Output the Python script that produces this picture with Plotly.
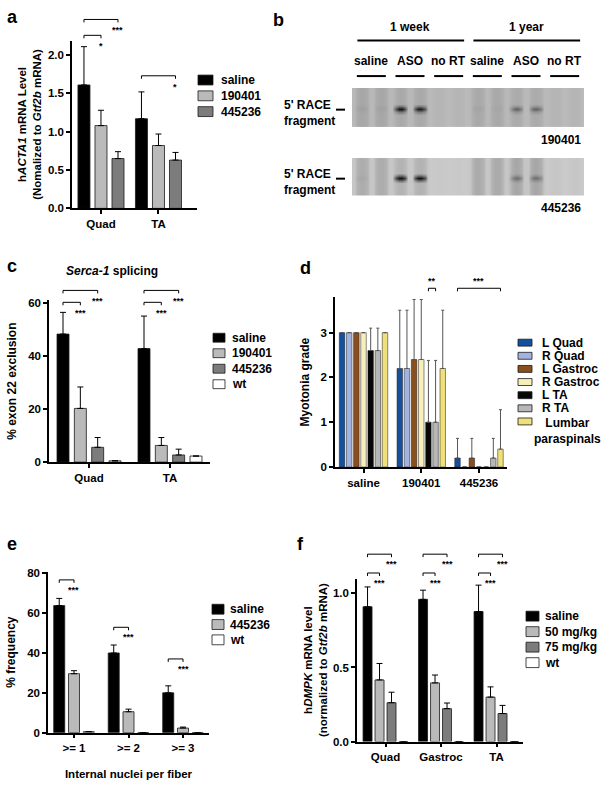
import plotly.graph_objects as go

W, H = 603, 789
FONT = "Liberation Sans, Arial, Helvetica, sans-serif"
FS = 11.5

# ============================ DATA ============================
# ---- panel a : hACTA1 mRNA level ----
a_groups = ["Quad", "TA"]
a_series = ["saline", "190401", "445236"]
a_mean_saline = [1.61, 1.17]
a_mean_190401 = [1.08, 0.82]
a_mean_445236 = [0.65, 0.63]
a_err_saline = [0.50, 0.35]
a_err_190401 = [0.20, 0.15]
a_err_445236 = [0.09, 0.10]
a_yticks = [0.0, 0.5, 1.0, 1.5, 2.0]

# ---- panel b : 5' RACE gels (12 lanes, relative darkness) ----
b_timepoints = ["1 week", "1 year"]
b_conditions = ["saline", "ASO", "no RT"]
b_gel_names = ["190401", "445236"]
b_band_190401 = [0.04, 0.03, 0.78, 0.72, 0.0, 0.0, 0.03, 0.02, 0.36, 0.36, 0.0, 0.0]
b_lane_190401 = [0.10, 0.10, 0.09, 0.09, 0.03, 0.03, 0.09, 0.09, 0.08, 0.08, 0.03, 0.03]
b_band_445236 = [0.03, 0.0, 0.95, 0.88, 0.0, 0.0, 0.0, 0.0, 0.28, 0.28, 0.0, 0.0]
b_lane_445236 = [0.15, 0.15, 0.12, 0.12, 0.01, 0.01, 0.16, 0.16, 0.18, 0.18, 0.02, 0.02]

# ---- panel c : Serca-1 splicing ----
c_groups = ["Quad", "TA"]
c_series = ["saline", "190401", "445236", "wt"]
c_mean_saline = [48.4, 42.9]
c_mean_190401 = [20.3, 6.3]
c_mean_445236 = [5.6, 2.7]
c_mean_wt = [0.5, 2.3]
c_err_saline = [8.2, 12.3]
c_err_190401 = [8.1, 3.0]
c_err_445236 = [3.7, 2.2]
c_err_wt = [None, None]
c_yticks = [0, 20, 40, 60]

# ---- panel d : myotonia grade ----
d_groups = ["saline", "190401", "445236"]
d_series = ["L Quad", "R Quad", "L Gastroc", "R Gastroc", "L TA", "R TA", "Lumbar<br>paraspinals"]
d_mean_LQuad = [3.0, 2.2, 0.2]
d_mean_RQuad = [3.0, 2.2, 0.0]
d_mean_LGastroc = [3.0, 2.4, 0.2]
d_mean_RGastroc = [3.0, 2.4, 0.0]
d_mean_LTA = [2.6, 1.0, 0.0]
d_mean_RTA = [2.6, 1.0, 0.2]
d_mean_Lumbar = [3.0, 2.2, 0.4]
d_err_LQuad = [None, 1.3, 0.44]
d_err_RQuad = [None, 1.3, None]
d_err_LGastroc = [None, 1.34, 0.44]
d_err_RGastroc = [None, 1.34, None]
d_err_LTA = [0.5, 1.38, None]
d_err_RTA = [0.5, 1.38, 0.44]
d_err_Lumbar = [None, 1.3, 0.88]
d_yticks = [0, 1, 2, 3]

# ---- panel e : internal nuclei ----
e_groups = [">= 1", ">= 2", ">= 3"]
e_series = ["saline", "445236", "wt"]
e_mean_saline = [63.8, 40.0, 20.0]
e_mean_445236 = [29.6, 10.5, 2.3]
e_mean_wt = [0.5, 0.0, 0.0]
e_err_saline = [3.6, 4.0, 3.5]
e_err_445236 = [1.5, 1.3, 0.5]
e_err_wt = [None, None, None]
e_yticks = [0, 20, 40, 60, 80]

# ---- panel f : hDMPK mRNA ----
f_groups = ["Quad", "Gastroc", "TA"]
f_series = ["saline", "50 mg/kg", "75 mg/kg", "wt"]
f_mean_saline = [0.91, 0.96, 0.878]
f_mean_50 = [0.416, 0.396, 0.30]
f_mean_75 = [0.262, 0.222, 0.189]
f_mean_wt = [0.0, 0.0, 0.0]
f_err_saline = [0.134, 0.062, 0.178]
f_err_50 = [0.111, 0.053, 0.069]
f_err_75 = [0.071, 0.038, 0.055]
f_err_wt = [None, None, None]
f_yticks = [0.0, 0.5, 1.0]

# significance brackets: (group, slot_from, slot_to, level, label)
a_sig = [(0, 0, 2, 2.465, "***"), (0, 0, 1, 2.258, "*"), (1, 0, 2, 1.73, "*")]
c_sig = [(0, 0, 2, 64.9, "***"), (0, 0, 1, 60.4, "***"),
         (1, 0, 2, 64.9, "***"), (1, 0, 1, 60.4, "***")]
d_sig = [(1, 4, 5, 3.99, "**"), (2, 0, 6, 3.99, "***")]
e_sig = [(0, 0, 1, 76.7, "***"), (1, 0, 1, 52.9, "***"), (2, 0, 1, 37.0, "***")]
f_sig = [(g, 0, 2, 1.265, "***") for g in range(3)] + [(g, 0, 1, 1.138, "***") for g in range(3)]

# ============================ STYLE / LAYOUT ============================
BLACK, LGREY, DGREY, WHITE = "#000000", "#bababa", "#7c7c7c", "#ffffff"
d_colors = ["#15509e", "#a3b3df", "#8a4f1f", "#f7efb9", "#070707", "#b7b7b7", "#f0e07c"]

fig = go.Figure()
shapes, anns = [], []


def P(x):
    return x / W


def Q(y):
    return 1 - y / H


def bfont(size=FS, **kw):
    return dict(family=FONT, size=size, color="black", weight="bold", **kw)


def text(t, x, y, xa="center", ya="middle", size=FS, align="left", angle=0):
    anns.append(dict(text=t, x=P(x), y=Q(y), xref="paper", yref="paper", xanchor=xa,
                     yanchor=ya, showarrow=False, font=bfont(size), align=align,
                     textangle=angle))


def hline(x0, x1, y, w=1.5):
    shapes.append(dict(type="line", xref="paper", yref="paper", x0=P(x0), x1=P(x1),
                       y0=Q(y), y1=Q(y), line=dict(color="black", width=w)))


panels = {}


def make_panel(key, n, xpx, ypx, xr, yr, groups, names, means, errs, colors,
               pitch, width, yticks, yfmt, ytitle, standoff, err_color="black",
               err_cap=3, line_w=0.8, xtitle=None, ytsize=12):
    panels[key] = dict(xpx=xpx, ypx=ypx, xr=xr, yr=yr, pitch=pitch, n=len(names))
    ns = len(names)
    for k, (nm, m, e, col) in enumerate(zip(names, means, errs, colors)):
        off = (k - (ns - 1) / 2) * pitch - width / 2
        fig.add_trace(go.Bar(
            x=groups, y=m, name=nm.replace("<br>", " "), width=width, offset=off,
            marker=dict(color=col, line=dict(color="#1a1a1a", width=line_w)),
            error_y=dict(type="data", array=e, arrayminus=[0] * len(m), symmetric=False,
                         color=err_color, thickness=1, width=err_cap),
            xaxis="x" + n, yaxis="y" + n, showlegend=False))
    ax = dict(showline=True, linecolor="black", linewidth=1.5, ticks="outside",
              ticklen=4, tickwidth=1.5, tickcolor="black", showgrid=False,
              zeroline=False, fixedrange=True, tickfont=bfont())
    xa = dict(ax, domain=[P(xpx[0]), P(xpx[1])], range=list(xr), type="category",
              anchor="y" + n)
    if xtitle:
        xa["title"] = dict(text=xtitle, font=bfont(), standoff=17)
    ya = dict(ax, domain=[Q(ypx[0]), Q(ypx[1])], range=list(yr), anchor="x" + n,
              tickvals=yticks, ticktext=[format(v, yfmt) for v in yticks],
              title=dict(text=ytitle, font=bfont(ytsize), standoff=standoff))
    fig.update_layout(**{"xaxis" + n: xa, "yaxis" + n: ya})


def vx(key, g, slot):
    p = panels[key]
    v = g + (slot - (p["n"] - 1) / 2) * p["pitch"]
    return p["xpx"][0] + (v - p["xr"][0]) / (p["xr"][1] - p["xr"][0]) * (p["xpx"][1] - p["xpx"][0])


def vy(key, val):
    p = panels[key]
    return p["ypx"][0] - (val - p["yr"][0]) / (p["yr"][1] - p["yr"][0]) * (p["ypx"][0] - p["ypx"][1])


def brackets(key, sigs, mode="right", dy=11):
    for g, s0, s1, lev, lab in sigs:
        x0, x1, y = vx(key, g, s0), vx(key, g, s1), vy(key, lev)
        t = 3
        shapes.append(dict(type="path", xref="paper", yref="paper",
                           path=f"M {P(x0)},{Q(y + t)} L {P(x0)},{Q(y)} L {P(x1)},{Q(y)} L {P(x1)},{Q(y + t)}",
                           line=dict(color="black", width=1)))
        if mode == "right":
            text(lab, x1, y + dy, size=9)
        else:
            text(lab, (x0 + x1) / 2, y - 7, size=9)


def legend(names, colors, x_sq, w_sq, h_sq, y0, dy, x_txt, size=FS + 0.5):
    for i, (nm, col) in enumerate(zip(names, colors)):
        yc = y0 + i * dy
        shapes.append(dict(type="rect", xref="paper", yref="paper", x0=P(x_sq), x1=P(x_sq + w_sq),
                           y0=Q(yc + h_sq / 2), y1=Q(yc - h_sq / 2), fillcolor=col,
                           line=dict(color="#1a1a1a", width=0.8)))
        if "<br>" in nm:
            text(nm, x_txt - 8, yc - 7.5, xa="left", ya="top", align="center", size=size)
        else:
            text(nm, x_txt, yc, xa="left", size=size)


# ---- panel a ----
make_panel("a", "", (72, 197), (207, 37), (-0.504, 1.67), (0, 2.19), a_groups, a_series,
           [a_mean_saline, a_mean_190401, a_mean_445236],
           [a_err_saline, a_err_190401, a_err_445236], [BLACK, LGREY, DGREY],
           0.296, 0.209, a_yticks, ".1f",
           "h<i>ACTA1</i> mRNA Level<br>(Nomalized to <i>Gtf2b</i> mRNA)", 4, ytsize=11.5)
brackets("a", a_sig)
legend(a_series, [BLACK, LGREY, DGREY], 198, 15, 10, 77, 16, 219)

# ---- panel c ----
make_panel("c", "2", (49, 210), (464, 300), (-0.494, 1.494), (0, 61.2), c_groups, c_series,
           [c_mean_saline, c_mean_190401, c_mean_445236, c_mean_wt],
           [c_err_saline, c_err_190401, c_err_445236, c_err_wt], [BLACK, LGREY, DGREY, WHITE],
           0.214, 0.148, c_yticks, "d", "% exon 22 exclusion", 9)
brackets("c", c_sig)
legend(c_series, [BLACK, LGREY, DGREY, WHITE], 213, 12, 9, 338, 15.7, 230)
text("<i>Serca-1</i> splicing", 112, 270, size=12)

# ---- panel d ----
make_panel("d", "3", (335, 507), (469, 297), (-0.494, 2.485), (0, 3.79), d_groups, d_series,
           [d_mean_LQuad, d_mean_RQuad, d_mean_LGastroc, d_mean_RGastroc, d_mean_LTA,
            d_mean_RTA, d_mean_Lumbar],
           [d_err_LQuad, d_err_RQuad, d_err_LGastroc, d_err_RGastroc, d_err_LTA,
            d_err_RTA, d_err_Lumbar], d_colors,
           0.124, 0.095, d_yticks, "d", "Myotonia grade", 8, err_color="#555555",
           err_cap=1.5, line_w=0.5)
brackets("d", d_sig, mode="above")
legend(d_series, d_colors, 518, 14, 7, 343, 13.3, 540, size=12)

# ---- panel e ----
make_panel("e", "4", (48, 209), (738, 575), (-0.477, 2.477), (0, 80.8), e_groups, e_series,
           [e_mean_saline, e_mean_445236, e_mean_wt],
           [e_err_saline, e_err_445236, e_err_wt], [BLACK, LGREY, WHITE],
           0.271, 0.202, e_yticks, "d", "% frequency", 9,
           xtitle="Internal nuclei per fiber")
brackets("e", e_sig, dy=10)
legend(e_series, [BLACK, LGREY, WHITE], 212, 12, 10, 613, 15.5, 228)

# ---- panel f ----
make_panel("f", "5", (357, 523), (747, 582), (-0.514, 2.477), (0, 1.1), f_groups, f_series,
           [f_mean_saline, f_mean_50, f_mean_75, f_mean_wt],
           [f_err_saline, f_err_50, f_err_75, f_err_wt], [BLACK, LGREY, DGREY, WHITE],
           0.216, 0.162, f_yticks, ".1f",
           "h<i>DMPK</i> mRNA level<br>(normalized to <i>Gtf2b</i> mRNA)", 3, ytsize=11.5)
brackets("f", f_sig, dy=10)
legend(f_series, [BLACK, LGREY, DGREY, WHITE], 526, 13, 10, 620, 15.7, 543)

# ---- panel b : gels as heatmaps ----
n_lanes = len(b_timepoints) * len(b_conditions) * 2
sub_x = [-0.42, -0.25, -0.08, 0.08, 0.25, 0.42]
lane_w = [0.15, 0.8, 1.0, 1.0, 0.8, 0.15]
band_w = [0.0, 0.6, 1.0, 1.0, 0.6, 0.0]
row_prof = [0, 0, 0, 0, 0, 0.3, 1.0, 0.3, 0, 0, 0, 0, 0, 0]  # bottom -> top


def gel_trace(band, lane, base, n):
    xs = [L + s for L in range(n_lanes) for s in sub_x]
    z = []
    for rp in row_prof:
        row = []
        for L in range(n_lanes):
            for lw, bw in zip(lane_w, band_w):
                row.append(min(1.0, base + lane[L] * lw + band[L] * rp * bw))
        z.append(row)
    return go.Heatmap(x=xs, y=list(range(len(row_prof))), z=z, zmin=0, zmax=1, zsmooth="best",
                      colorscale=[[0, "rgb(214,214,214)"], [1, "rgb(20,20,20)"]],
                      showscale=False, hoverinfo="skip", xaxis="x" + n, yaxis="y" + n)


GX = (352, 584)
gels = [(b_band_190401, b_lane_190401, 0.14, "6", (125, 85)),
        (b_band_445236, b_lane_445236, 0.06, "7", (194, 156))]
for band, lane, base, n, (yb, yt) in gels:
    fig.add_trace(gel_trace(band, lane, base, n))
    fig.update_layout(**{
        "xaxis" + n: dict(domain=[P(GX[0]), P(GX[1])], range=[-0.5, n_lanes - 0.5],
                          visible=False, anchor="y" + n, fixedrange=True),
        "yaxis" + n: dict(domain=[Q(yb), Q(yt)], range=[-0.5, len(row_prof) - 0.5],
                          visible=False, anchor="x" + n, fixedrange=True)})


def lane_px(v):
    return GX[0] + (v + 0.5) / n_lanes * (GX[1] - GX[0])


for ti, tp in enumerate(b_timepoints):
    l0 = ti * 6
    text(tp, lane_px(l0 + 2.5), 23, size=12)
    hline(lane_px(l0 - 0.22), lane_px(l0 + 5.3), 37, 2)
    for ci, cond in enumerate(b_conditions):
        c = l0 + ci * 2 + 0.5
        text(cond, lane_px(c), 58, size=12)
        hline(lane_px(c) - 14.5, lane_px(c) + 14.5, 73, 2)

for (band, lane, base, n, (yb, yt)), gname in zip(gels, b_gel_names):
    yc = yb - (yb - yt) * 0.45
    text("5' RACE<br>fragment", 282, yc + 3, xa="left", size=12)
    hline(336, 345, yc, 2)
    text(gname, 583, yb + 13, xa="right", size=12)

# panel letters
for lab, x, y in [("a", 12, 13), ("b", 278, 16), ("c", 12, 265), ("d", 305, 267),
                  ("e", 12, 547), ("f", 300, 547)]:
    text(lab, x, y, size=18)

fig.update_layout(width=W, height=H, margin=dict(l=0, r=0, t=0, b=0), autosize=False,
                  paper_bgcolor="white", plot_bgcolor="white",
                  font=dict(family=FONT, size=FS, color="black", weight="bold"),
                  shapes=shapes, annotations=anns, showlegend=False)
fig.write_html("out.html", config={"displayModeBar": False},
               post_script="document.body.style.margin='0px';document.body.style.overflow='hidden';")
